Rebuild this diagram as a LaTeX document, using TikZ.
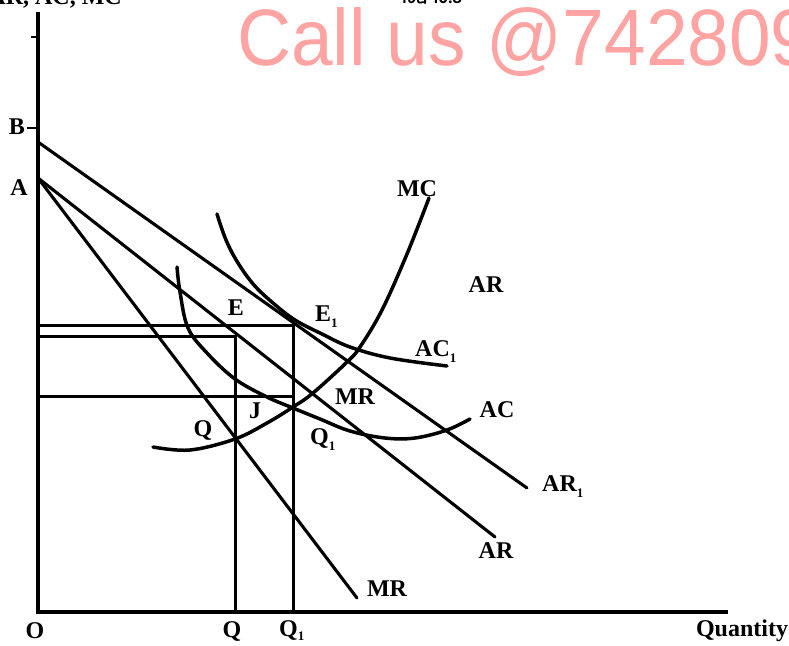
\documentclass[tikz,border=0pt]{standalone}
\usepackage{fontspec}
\setmainfont{Liberation Serif}
\newfontfamily\wmfont{Liberation Sans}
\newfontfamily\bnfont[Script=Bengali]{Hind Siliguri}
\definecolor{wmpink}{RGB}{255,163,163}
\newcommand{\sbone}{\raisebox{-6pt}{\fontsize{13}{13}\selectfont 1}}
\newcommand{\sbonelow}{\raisebox{-4pt}{\fontsize{13}{13}\selectfont 1}}
\begin{document}
\begin{tikzpicture}[x=1pt,y=-1pt,
  lbl/.style={font=\fontsize{24}{24}\selectfont\bfseries, inner sep=0pt},
  axisline/.style={line width=3.4pt},
  straight/.style={line width=3.1pt, line cap=round},
  curvy/.style={line width=3.5pt, line cap=round},
  guide/.style={line width=3pt},
  tick/.style={line width=1.3pt}]
\useasboundingbox (0,0) rectangle (789,645);
\clip (0,0) rectangle (789,645);

% axes
\coordinate (O) at (38,612);
\coordinate (Ytop) at (38,12);
\coordinate (Xend) at (728,612);
\draw[axisline] (Ytop) -- (O) -- (Xend);
\coordinate (tk1a) at (31,37); \coordinate (tk1b) at (38,37);
\coordinate (tk2a) at (27,128); \coordinate (tk2b) at (38,128);
\draw[tick] (tk1a) -- (tk1b);
\draw[tick] (tk2a) -- (tk2b);

% straight lines
\coordinate (B0) at (38,142);
\coordinate (A0) at (38,178);
\coordinate (AR1end) at (527,488);
\coordinate (ARend) at (495,537);
\coordinate (MRend) at (357,598);
\draw[straight] (B0) -- (AR1end);
\draw[straight] (A0) -- (ARend);
\draw[straight] (A0) -- (MRend);

% guide lines
\coordinate (yE1) at (38,325); \coordinate (E1p) at (293,325); \coordinate (Q1b) at (293,612);
\coordinate (yE) at (38,336); \coordinate (Ep) at (235,336); \coordinate (Qb) at (235,612);
\coordinate (yJ) at (38,396); \coordinate (Jp) at (293,396);
\draw[guide] (yE1) -- (E1p) -- (Q1b);
\draw[guide] (yE) -- (Ep) -- (Qb);
\draw[guide] (yJ) -- (Jp);

% curves
\draw[curvy] plot[smooth, tension=0.6] coordinates {(217,214) (226,240) (238,263) (254,285) (273,303) (295,320) (322,334) (350,347) (390,358) (447,366)};
\draw[curvy] plot[smooth, tension=0.6] coordinates {(177,267) (180,292) (188,328) (207,353) (235,379) (267,397) (293,408) (320,419) (350,431) (385,438) (415,438) (447,430) (470,419)};
\draw[curvy] plot[smooth, tension=0.6] coordinates {(153,447) (190,450) (235,439) (267,423) (293,407) (313,393) (347,362) (360,347) (382,310) (407,254) (429,198)};

% labels
\node[lbl] (lB) at (17,127) {B};
\node[lbl] (lA) at (19,188) {A};
\node[lbl] (lMC) at (417,189) {MC};
\node[lbl] (lARtop) at (486,285) {AR};
\node[lbl] (lE) at (236,308) {E};
\node[lbl, anchor=west] (lE1) at (315,317) {E\sbone};
\node[lbl, anchor=west] (lAC1) at (415,352) {AC\sbone};
\node[lbl] (lMRmid) at (355,397) {MR};
\node[lbl] (lAC) at (497,410) {AC};
\node[lbl] (lJ) at (255,411) {J};
\node[lbl] (lQ) at (203,430) {Q};
\node[lbl, anchor=west] (lQ1) at (310,440) {Q\sbone};
\node[lbl, anchor=west] (lAR1) at (542,487) {AR\sbone};
\node[lbl] (lARlow) at (496,551) {AR};
\node[lbl] (lMRlow) at (387,589) {MR};
\node[lbl] (lO) at (35,631) {O};
\node[lbl] (lQx) at (232,631) {Q};
\node[lbl, anchor=west] (lQ1x) at (279,631) {Q\sbonelow};
\node[lbl] (lQty) at (742,631) {Quantity};

% cut-off texts at the top
\node[lbl, anchor=base east] (lYax) at (122,5) {AR, AC, MC};
\node[font=\bnfont\fontsize{18}{18}\selectfont\bfseries, inner sep=0pt, anchor=base] (lFig) at (432,3) {চিত্র 10.8};

% watermark
\node[font=\wmfont\fontsize{80}{80}\selectfont, text=wmpink, inner sep=0pt, anchor=base west] (wm) at (237,65) {\scalebox{0.936}[1]{Call us @742809}};
\end{tikzpicture}
\end{document}
